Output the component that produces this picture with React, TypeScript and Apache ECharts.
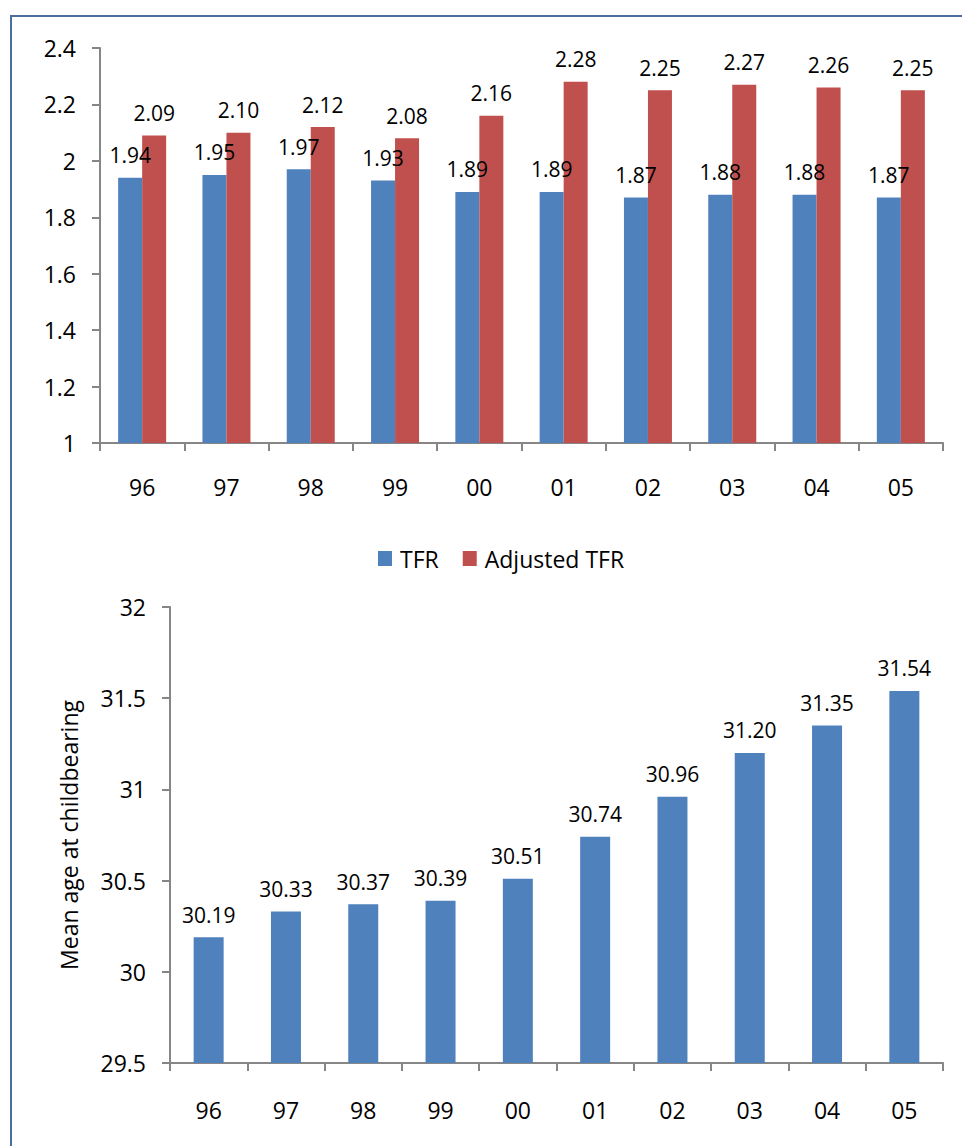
import React, { useEffect, useRef } from "react";
import * as echarts from "echarts";

const categories = ["96", "97", "98", "99", "00", "01", "02", "03", "04", "05"];
const tfr = [1.94, 1.95, 1.97, 1.93, 1.89, 1.89, 1.87, 1.88, 1.88, 1.87];
const adjustedTfr = [2.09, 2.1, 2.12, 2.08, 2.16, 2.28, 2.25, 2.27, 2.26, 2.25];
const meanAge = [30.19, 30.33, 30.37, 30.39, 30.51, 30.74, 30.96, 31.2, 31.35, 31.54];

const FONT = "Open Sans";
const AXIS_COLOR = "#868686";
const BLUE = "#4F81BD";
const RED = "#C0504D";

export default function App() {
  const ref = useRef<HTMLDivElement>(null);
  useEffect(() => {
    if (!ref.current) return;
    const chart = echarts.init(ref.current, null, { renderer: "svg" });
    const axisLine = { show: true, lineStyle: { color: AXIS_COLOR, width: 2 } };
    const axisTick = { show: true, length: 8, lineStyle: { color: AXIS_COLOR, width: 2 } };
    const axisLabelBase = { color: "#000", fontFamily: FONT, fontSize: 23 };
    const dataLabel = {
      show: true,
      position: "top",
      distance: 12,
      color: "#000",
      fontFamily: FONT,
      fontSize: 21,
      formatter: (p: any) => Number(p.value).toFixed(2),
    };
    chart.setOption({
      animation: false,
      backgroundColor: "#fff",
      textStyle: { fontFamily: FONT },
      graphic: [
        {
          type: "rect",
          shape: { x: 11, y: 16, width: 1000, height: 1200 },
          style: { fill: "none", stroke: "#4A6E9E", lineWidth: 2 },
          silent: true,
        },
      ],
      legend: {
        left: 373,
        top: 542,
        data: ["TFR", "Adjusted TFR"],
        icon: "rect",
        itemWidth: 14,
        itemHeight: 15,
        itemGap: 24,
        textStyle: { color: "#000", fontFamily: FONT, fontSize: 23, padding: [0, 0, 0, 3] },
      },
      grid: [
        { left: 100, right: 19, top: 48, height: 395 },
        { left: 170, right: 19, top: 607, height: 456 },
      ],
      xAxis: [
        {
          gridIndex: 0,
          type: "category",
          data: categories,
          axisLine,
          axisTick,
          axisLabel: { ...axisLabelBase, margin: 32 },
        },
        {
          gridIndex: 1,
          type: "category",
          data: categories,
          axisLine,
          axisTick,
          axisLabel: { ...axisLabelBase, margin: 35 },
        },
      ],
      yAxis: [
        {
          gridIndex: 0,
          type: "value",
          min: 1,
          max: 2.4,
          interval: 0.2,
          axisLine,
          axisTick,
          splitLine: { show: false },
          axisLabel: { ...axisLabelBase, margin: 24 },
        },
        {
          gridIndex: 1,
          type: "value",
          min: 29.5,
          max: 32,
          interval: 0.5,
          axisLine,
          axisTick,
          splitLine: { show: false },
          axisLabel: { ...axisLabelBase, margin: 24 },
          name: "Mean age at childbearing",
          nameLocation: "middle",
          nameRotate: 90,
          nameGap: 90,
          nameTextStyle: { color: "#000", fontFamily: FONT, fontSize: 23 },
        },
      ],
      series: [
        {
          name: "TFR",
          type: "bar",
          xAxisIndex: 0,
          yAxisIndex: 0,
          data: tfr,
          barWidth: 24,
          barGap: "0%",
          itemStyle: { color: BLUE },
          label: dataLabel,
        },
        {
          name: "Adjusted TFR",
          type: "bar",
          xAxisIndex: 0,
          yAxisIndex: 0,
          data: adjustedTfr,
          barWidth: 24,
          barGap: "0%",
          itemStyle: { color: RED },
          label: dataLabel,
        },
        {
          name: "Mean age",
          type: "bar",
          xAxisIndex: 1,
          yAxisIndex: 1,
          data: meanAge,
          barWidth: 30,
          itemStyle: { color: BLUE },
          label: dataLabel,
        },
      ],
    });
    return () => chart.dispose();
  }, []);
  return (
    <div
      ref={ref}
      style={{ position: "fixed", left: 0, top: 0, width: 962, height: 1146 }}
    />
  );
}
